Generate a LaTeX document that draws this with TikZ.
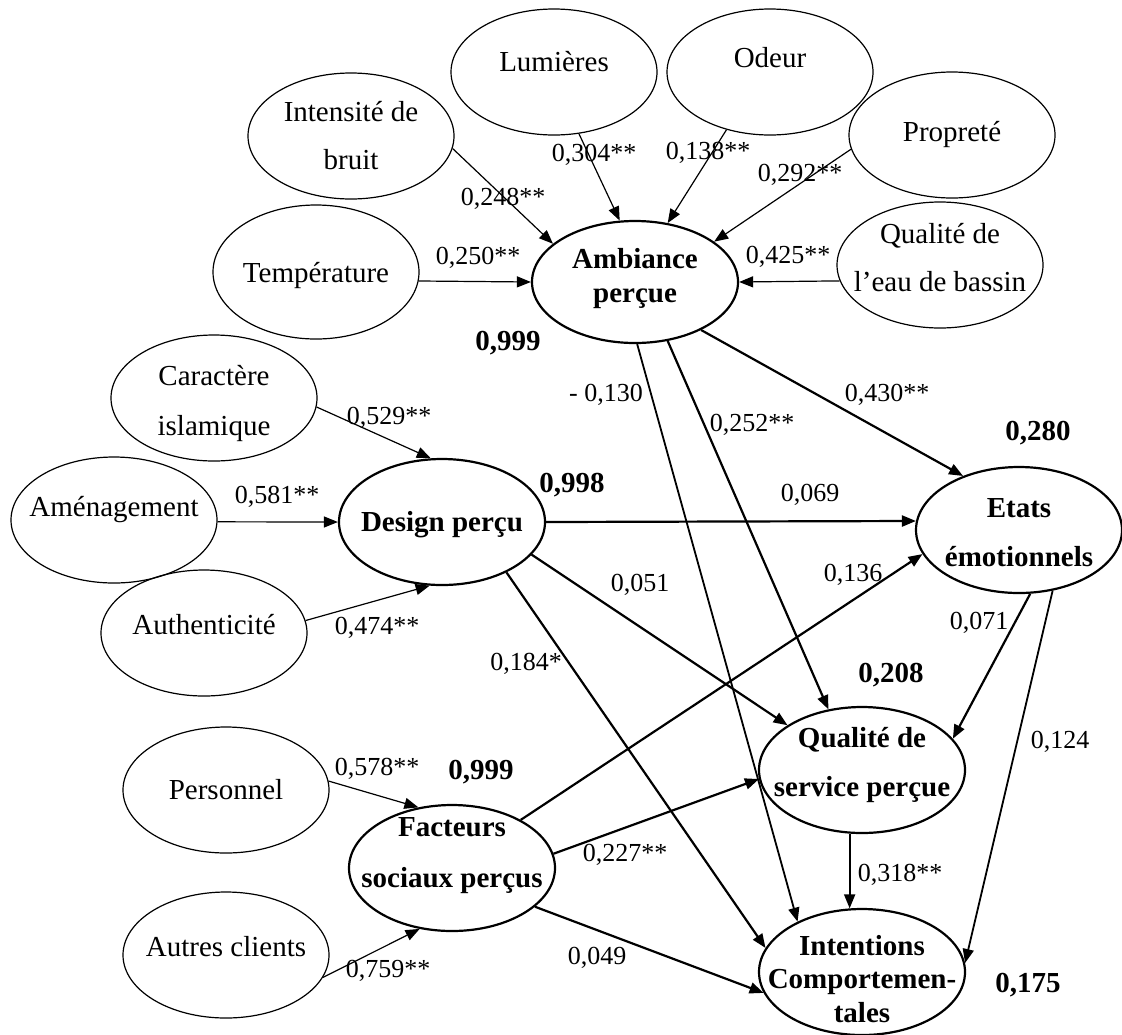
\documentclass[tikz,border=0pt]{standalone}
\usepackage{fontspec}
\setmainfont{Liberation Serif}
\usetikzlibrary{shapes.geometric,arrows.meta}
\newcommand{\ctext}[3]{\makebox[0pt]{\raisebox{#1}[0pt][0pt]{\fontsize{14.5}{#2}\selectfont\begin{tabular}{@{}c@{}}#3\end{tabular}}}}
\begin{document}
\begin{tikzpicture}[x=0.5pt,y=-0.5pt,
  ext/.style={ellipse, draw, line width=0.6pt, inner sep=0pt, minimum width=103pt, minimum height=63pt},
  lat/.style={ext, line width=1.1pt, font=\bfseries},
  arr/.style={-{Triangle[length=7pt,width=5.5pt]}, line width=0.6pt},
  sarr/.style={arr, line width=1.1pt},
  coef/.style={font=\fontsize{13}{15}\selectfont, inner sep=0pt},
  rsq/.style={font=\fontsize{14.5}{17}\selectfont\bfseries, inner sep=0pt}]
\useasboundingbox (0,0) rectangle (1122,1034);
% exogenous
\node[ext] (lum) at (554,72) {\ctext{1.4pt}{24pt}{Lumières}};
\node[ext] (ode) at (770,72) {\ctext{3.4pt}{24pt}{Odeur}};
\node[ext] (pro) at (952,135) {\ctext{-2.1pt}{24pt}{Propreté}};
\node[ext] (ins) at (351,136) {\ctext{-3.6pt}{24pt}{Intensité de\\bruit}};
\node[ext, minimum height=67pt] (tem) at (316,272) {\ctext{-4.1pt}{24pt}{Température}};
\node[ext] (qea) at (940,265) {\ctext{-0.1pt}{24pt}{Qualité de\\l’eau de bassin}};
\node[ext] (car) at (214,398) {\ctext{-4.6pt}{25pt}{Caractère\\islamique}};
\node[ext] (ame) at (114,520) {\ctext{2.9pt}{24pt}{Aménagement}};
\node[ext] (aut) at (204,633) {\ctext{0.4pt}{24pt}{Authenticité}};
\node[ext] (per) at (226,790) {\ctext{-3.6pt}{24pt}{Personnel}};
\node[ext] (acl) at (226,955) {\ctext{0.4pt}{24pt}{Autres clients}};
% latent
\node[lat, minimum height=61pt] (amb) at (635,282) {\ctext{-2.1pt}{17pt}{\bfseries Ambiance\\\bfseries perçue}};
\node[lat] (des) at (442,522) {\ctext{-3.6pt}{24pt}{\bfseries Design perçu}};
\node[lat] (eta) at (1019,530) {\ctext{-4.6pt}{24.5pt}{\bfseries Etats\\\bfseries émotionnels}};
\node[lat] (fac) at (452,868) {\ctext{4.4pt}{25.5pt}{\bfseries Facteurs\\\bfseries sociaux perçus}};
\node[lat] (qsp) at (862,770) {\ctext{0.4pt}{24.5pt}{\bfseries Qualité de\\\bfseries service perçue}};
\node[lat] (int) at (862,972) {\ctext{-8.6pt}{16.8pt}{\bfseries Intentions\\\bfseries Comportemen-\\\bfseries tales}};
% measurement arrows
\draw[arr] (ins.-7) -- (amb.155);
\draw[arr] (lum.-68) -- (amb.104);
\draw[arr] (ode.233) -- (amb.61);
\draw[arr] (pro.188) -- (amb.27);
\draw[arr] (tem.-5.5) -- (amb.180);
\draw[arr] (qea.189.5) -- (amb.0);
\draw[arr] (car.-5.5) -- (des.100.6);
\draw[arr] (ame.-1) -- (des.180);
\draw[arr] (aut.7.3) -- (des.259);
\draw[arr] (per.5.5) -- (fac.119);
\draw[arr] (acl.-13) -- (fac.242);
% structural arrows
\draw[sarr] (amb.-36.5) -- (eta.136);
\draw[arr, line width=0.9pt] (amb.-88) -- (int.142);
\draw[sarr] (amb.-61) -- (qsp.119);
\draw[sarr] (des.0) -- (eta.175.5);
\draw[sarr] (des.-20.8) -- (qsp.149);
\draw[sarr] (des.-38) -- (int.166);
\draw[sarr] (fac.35.7) -- (eta.194);
\draw[sarr] (fac.8) -- (qsp.185);
\draw[sarr] (fac.-25.7) -- (int.192.6);
\draw[sarr] (eta.-80) -- (qsp.19.7);
\draw[arr, line width=0.9pt] (eta.-61.7) -- (int.5);
\draw[arr, line width=0.9pt] (qsp.-101) -- (int.101);
% coefficients
\node[coef] (c1) at (503,199) {0,248**};
\node[coef] (c2) at (594,155) {0,304**};
\node[coef] (c3) at (708,153) {0,138**};
\node[coef] (c4) at (800,175) {0,292**};
\node[coef] (c5) at (478,258) {0,250**};
\node[coef] (c6) at (788,257) {0,425**};
\node[coef] (c7) at (389,418) {0,529**};
\node[coef] (c8) at (277,497) {0,581**};
\node[coef] (c9) at (377,628) {0,474**};
\node[coef] (c10) at (377,769) {0,578**};
\node[coef] (c11) at (388,971) {0,759**};
\node[coef] (c12) at (606,395) {- 0,130};
\node[coef] (c13) at (752,425) {0,252**};
\node[coef] (c14) at (887,395) {0,430**};
\node[coef] (c15) at (810,495) {0,069};
\node[coef] (c16) at (853,575) {0,136};
\node[coef] (c17) at (640,585) {0,051};
\node[coef] (c18) at (979,623) {0,071};
\node[coef] (c19) at (526,664) {0,184*};
\node[coef] (c20) at (625,855) {0,227**};
\node[coef] (c21) at (900,875) {0,318**};
\node[coef] (c22) at (1060,742) {0,124};
\node[coef] (c23) at (597,958) {0,049};
% R squared
\node[rsq] (r1) at (508,343) {0,999};
\node[rsq] (r2) at (572,485) {0,998};
\node[rsq] (r3) at (481,772) {0,999};
\node[rsq] (r4) at (1038,433) {0,280};
\node[rsq] (r5) at (891,675) {0,208};
\node[rsq] (r6) at (1028,985) {0,175};
\end{tikzpicture}
\end{document}
